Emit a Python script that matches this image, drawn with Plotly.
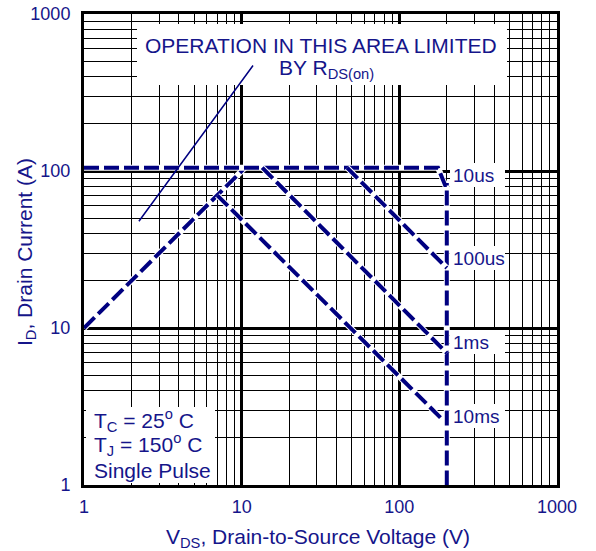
import plotly.graph_objects as go
import math

# ---------------- data ----------------
rds_v = [1, 10.5]
rds_i = [10, 105]

us10_v = [1, 176, 195, 200, 200]
us10_i = [105, 105, 81.5, 81.5, 1]

us100_v = [46.6, 200]
us100_i = [105, 24.1]

ms1_v = [13.5, 200]
ms1_i = [105, 6.93]

ms10_v = [7, 185]
ms10_i = [70, 2.65]

pointer_v = [2.23, 12.0]
pointer_i = [47.9, 480]

curve_labels = ["10us", "100us", "1ms", "10ms"]
label_v = [200, 200, 200, 200]
label_i = [94, 27.9, 8.1, 2.75]

x_ticks = [1, 10, 100, 1000]
y_ticks = [1, 10, 100, 1000]

NAVY = "#000080"
TXT = "#15158a"
FONT = "Liberation Sans, Arial, sans-serif"

# plot area in pixels (for paper coordinate conversion of boxes/text)
L, R, T, B = 84, 557, 14, 485
W, H = R - L, B - T


def px(x):
    return (x - L) / W


def py(y):
    return (B - y) / H


fig = go.Figure()

curves = [(rds_v, rds_i), (us10_v, us10_i), (us100_v, us100_i), (ms1_v, ms1_i), (ms10_v, ms10_i)]
for v, i in curves:
    fig.add_trace(go.Scatter(x=v, y=i, mode="lines", line=dict(color="white", width=6),
                             hoverinfo="skip", showlegend=False))
    fig.add_trace(go.Scatter(x=v, y=i, mode="lines",
                             line=dict(color=NAVY, width=4, dash="15px,5px"),
                             showlegend=False))

# white boxes masking the grid behind the texts
boxes = [
    (137, 24, 507, 85),
    (450, 163, 505, 187),
    (450, 246, 505, 270),
    (450, 330, 505, 354),
    (450, 404, 505, 428),
    (86, 407, 215, 483),
]
for x0, y0, x1, y1 in boxes:
    fig.add_shape(type="rect", xref="paper", yref="paper",
                  x0=px(x0), x1=px(x1), y0=py(y1), y1=py(y0),
                  fillcolor="white", line=dict(width=0), layer="above")

ann = []
for t, v, i in zip(curve_labels, label_v, label_i):
    ann.append(dict(x=math.log10(v), y=math.log10(i), xref="x", yref="y", text=t,
                    xanchor="left", yanchor="middle", xshift=4, showarrow=False,
                    font=dict(size=19, color=TXT, family=FONT)))

ann.append(dict(x=px(321), y=py(46), xref="paper", yref="paper",
                text="OPERATION IN THIS AREA LIMITED", showarrow=False,
                xanchor="center", yanchor="middle",
                font=dict(size=21, color=TXT, family=FONT)))
ann.append(dict(x=px(326), y=py(69), xref="paper", yref="paper",
                text="BY R<sub>DS(on)</sub>", showarrow=False,
                xanchor="center", yanchor="middle",
                font=dict(size=21, color=TXT, family=FONT)))

# pointer line from the note down to the R_DS(on) limit line
ann.append(dict(x=math.log10(pointer_v[0]), y=math.log10(pointer_i[0]), xref="x", yref="y",
                ax=math.log10(pointer_v[1]), ay=math.log10(pointer_i[1]), axref="x", ayref="y",
                text="", showarrow=True, arrowhead=0, arrowwidth=1.5, arrowcolor=NAVY,
                standoff=0, startstandoff=0))

for txt, yc in [("T<sub>C</sub> = 25<sup>o</sup> C", 420),
                ("T<sub>J</sub> = 150<sup>o</sup> C", 444),
                ("Single Pulse", 470)]:
    ann.append(dict(x=px(92), y=py(yc), xref="paper", yref="paper", text=txt,
                    showarrow=False, xanchor="left", yanchor="middle",
                    font=dict(size=21, color=TXT, family=FONT)))

ann.append(dict(x=px(318), y=py(538), xref="paper", yref="paper",
                text="V<sub>DS</sub>, Drain-to-Source Voltage (V)", showarrow=False,
                xanchor="center", yanchor="middle",
                font=dict(size=21, color=TXT, family=FONT)))
ann.append(dict(x=px(26), y=py(252), xref="paper", yref="paper",
                text="I<sub>D</sub>, Drain Current (A)", showarrow=False, textangle=-90,
                xanchor="center", yanchor="middle",
                font=dict(size=21, color=TXT, family=FONT)))

minor_vals = [m * 10 ** k for k in range(3) for m in range(2, 10)]

axis_common = dict(
    type="log", range=[0, 3],
    showgrid=True, gridcolor="black", gridwidth=3,
    minor=dict(tickvals=minor_vals, showgrid=True, gridcolor="black", gridwidth=1, ticks=""),
    showline=True, mirror=True, linecolor="black", linewidth=3,
    ticks="", zeroline=False,
    tickfont=dict(size=18, color=TXT, family=FONT),
)

fig.update_xaxes(**axis_common, tickvals=x_ticks, ticktext=[str(v) for v in x_ticks],
                 ticklabelstandoff=3)
fig.update_yaxes(**axis_common, tickvals=y_ticks, ticktext=[str(v) for v in y_ticks],
                 ticklabelstandoff=7)

fig.update_layout(
    width=596, height=551,
    margin=dict(l=L, r=596 - R, t=T, b=551 - B, autoexpand=False),
    paper_bgcolor="white", plot_bgcolor="white",
    annotations=ann, showlegend=False,
    font=dict(family=FONT, color=TXT),
)

fig.write_html("out.html")
